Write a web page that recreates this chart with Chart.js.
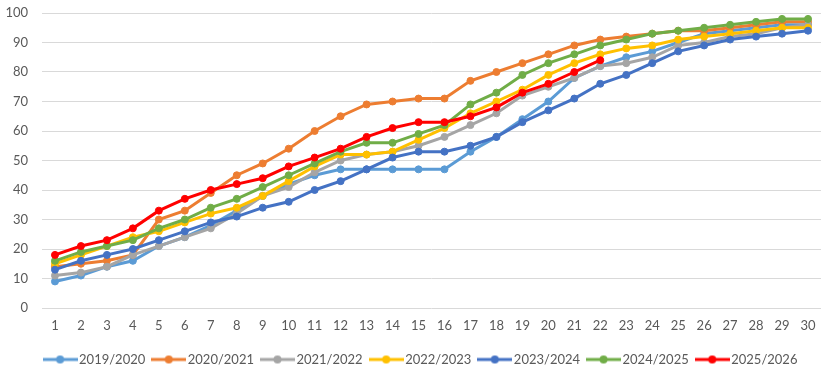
<!DOCTYPE html>
<html>
<head>
<meta charset="utf-8">
<script src="https://cdn.jsdelivr.net/npm/chart.js@4/dist/chart.umd.min.js"></script>
<style>
  html, body { margin: 0; padding: 0; background: #ffffff; }
  #wrap { width: 830px; height: 372px; position: relative; }
</style>
</head>
<body>
<div id="wrap"><canvas id="c"></canvas></div>
<script>
const categories = ["1","2","3","4","5","6","7","8","9","10","11","12","13","14","15","16","17","18","19","20","21","22","23","24","25","26","27","28","29","30"];
const yTicks = [0,10,20,30,40,50,60,70,80,90,100];

const s2019_2020 = [9,11,14,16,21,24,28,33,38,42,45,47,47,47,47,47,53,58,64,70,78,82,85,87,90,93,94,95,96,96];
const s2020_2021 = [14,15,16,18,30,33,39,45,49,54,60,65,69,70,71,71,77,80,83,86,89,91,92,93,94,94,95,96,97,97];
const s2021_2022 = [11,12,14,18,21,24,27,32,38,41,46,50,52,53,55,58,62,66,72,75,78,82,83,85,89,90,92,93,95,96];
const s2022_2023 = [15,18,21,24,26,29,32,34,38,43,48,52,52,53,57,61,66,70,74,79,83,86,88,89,91,92,93,94,95,95];
const s2023_2024 = [13,16,18,20,23,26,29,31,34,36,40,43,47,51,53,53,55,58,63,67,71,76,79,83,87,89,91,92,93,94];
const s2024_2025 = [16,19,21,23,27,30,34,37,41,45,49,53,56,56,59,62,69,73,79,83,86,89,91,93,94,95,96,97,98,98];
const s2025_2026 = [18,21,23,27,33,37,40,42,44,48,51,54,58,61,63,63,65,68,73,76,80,84];

const seriesNames = ["2019/2020","2020/2021","2021/2022","2022/2023","2023/2024","2024/2025","2025/2026"];
const seriesData = [s2019_2020,s2020_2021,s2021_2022,s2022_2023,s2023_2024,s2024_2025,s2025_2026];
const seriesColors = ["#5B9BD5","#ED7D31","#A5A5A5","#FFC000","#4472C4","#70AD47","#FF0000"];

function legendIcon(color) {
  const c = document.createElement('canvas');
  c.width = 35; c.height = 10;
  const g = c.getContext('2d');
  g.strokeStyle = color; g.lineWidth = 3; g.lineCap = 'butt';
  g.beginPath(); g.moveTo(0, 5); g.lineTo(35, 5); g.stroke();
  g.fillStyle = color;
  g.beginPath(); g.arc(17.5, 5, 4, 0, Math.PI * 2); g.fill();
  return c;
}
const icons = seriesColors.map(legendIcon);

const datasets = seriesNames.map((n, i) => ({
  label: n,
  data: seriesData[i],
  borderColor: seriesColors[i],
  backgroundColor: seriesColors[i],
  pointBackgroundColor: seriesColors[i],
  pointBorderColor: seriesColors[i],
  borderWidth: 3,
  pointRadius: 3.5,
  pointBorderWidth: 1,
  tension: 0,
  fill: false,
  order: seriesNames.length - i
}));

const FONT = "Lato, 'Liberation Sans', sans-serif";

const legendShift = {
  id: 'legendShift',
  afterLayout(chart) {
    if (chart.legend) { chart.legend.left += 12; chart.legend.right += 12; }
  }
};

new Chart(document.getElementById('c'), {
  type: 'line',
  data: { labels: categories, datasets },
  plugins: [legendShift],
  options: {
    responsive: true,
    maintainAspectRatio: false,
    animation: false,
    layout: { autoPadding: false, padding: { left: 0, right: 9, top: 13, bottom: -4 } },
    plugins: {
      tooltip: { enabled: false },
      legend: {
        position: 'bottom',
        labels: {
          usePointStyle: true,
          pointStyleWidth: 25,
          boxHeight: 10,
          padding: 11,
          color: '#595959',
          font: { family: FONT, size: 13 },
          sort: (a, b) => a.datasetIndex - b.datasetIndex,
          generateLabels: (chart) => {
            const items = Chart.defaults.plugins.legend.labels.generateLabels(chart);
            items.forEach((it) => { it.pointStyle = icons[it.datasetIndex]; });
            return items;
          }
        }
      }
    },
    scales: {
      x: {
        offset: true,
        grid: { display: false, drawTicks: false },
        border: { display: false },
        ticks: { color: '#595959', font: { family: FONT, size: 13 }, padding: 10, maxRotation: 0, autoSkip: false },
        afterFit: (s) => { s.height = 34; s.paddingLeft = 0; s.paddingRight = 0; }
      },
      y: {
        min: 0, max: 100,
        afterBuildTicks: (s) => { s.ticks = yTicks.map(v => ({ value: v })); },
        grid: { color: '#D9D9D9', lineWidth: 1, drawTicks: false },
        border: { display: false },
        ticks: { color: '#595959', font: { family: FONT, size: 13 }, padding: 14 },
        afterFit: (s) => { s.width = 42; s.paddingTop = 0; s.paddingBottom = 0; }
      }
    }
  }
});
</script>
</body>
</html>
